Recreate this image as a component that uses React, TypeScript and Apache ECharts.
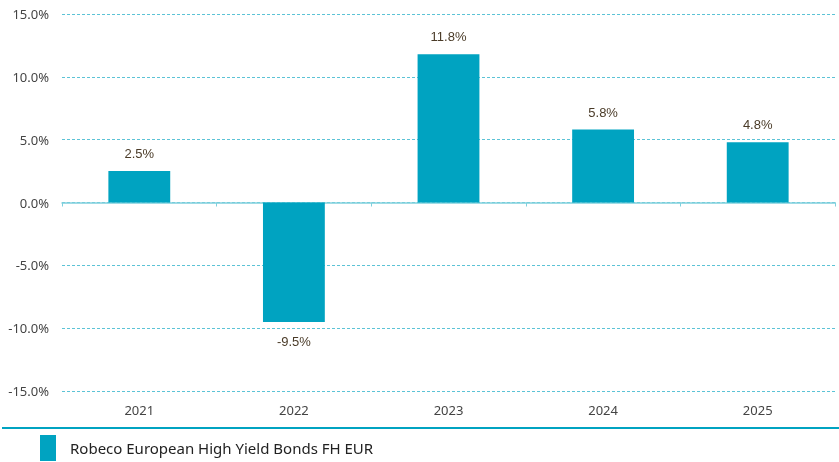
import React, { useEffect, useRef } from "react";
import * as echarts from "echarts";

const categories = ["2021", "2022", "2023", "2024", "2025"];
const values = [2.5, -9.5, 11.8, 5.8, 4.8];
const seriesName = "Robeco European High Yield Bonds FH EUR";

export default function App() {
  const ref = useRef<HTMLDivElement>(null);
  useEffect(() => {
    if (!ref.current) return;
    const chart = echarts.init(ref.current, null, { renderer: "svg" });
    chart.setOption({
      animation: false,
      grid: { left: 62, right: 4, top: 14, bottom: 71, containLabel: false },
      legend: {
        left: 40,
        top: 435,
        padding: 0,
        itemWidth: 16,
        itemHeight: 26,
        itemGap: 20,
        icon: "rect",
        textStyle: { fontFamily: "Noto Sans", fontSize: 15, color: "#222", padding: [0, 0, 0, 9] },
        data: [seriesName],
      },
      xAxis: [
        {
          type: "category",
          data: categories,
          position: "bottom",
          axisLine: { onZero: true, lineStyle: { color: "#7fd0dd", width: 1.5 } },
          axisTick: { show: true, length: 4, lineStyle: { color: "#7fd0dd" } },
          axisLabel: { show: false },
        },
        {
          type: "category",
          data: categories,
          position: "bottom",
          axisLine: { show: false, onZero: false },
          axisTick: { show: false },
          axisLabel: { show: true, margin: 12, fontFamily: "Noto Sans", fontSize: 13, color: "#444" },
        },
      ],
      yAxis: {
        type: "value",
        min: -15,
        max: 15,
        interval: 5,
        axisLine: { show: false },
        axisTick: { show: false },
        axisLabel: {
          margin: 13,
          fontFamily: "Noto Sans",
          fontSize: 13,
          color: "#444",
          formatter: (v: number) => v.toFixed(1) + "%",
        },
        splitLine: { lineStyle: { color: "#5cc3d6", type: [3, 2], width: 1 } },
      },
      series: [
        {
          name: seriesName,
          type: "bar",
          xAxisIndex: 0,
          barWidth: "40%",
          itemStyle: { color: "#00a3c1" },
          data: values.map((v) => ({
            value: v,
            label: {
              show: true,
              position: v >= 0 ? "top" : "bottom",
              distance: v >= 0 ? 11 : 13,
              formatter: v.toFixed(1) + "%",
              fontFamily: "Liberation Sans",
              fontSize: 13,
              color: "#4a3b28",
            },
          })),
        },
      ],
      graphic: [
        {
          type: "line",
          shape: { x1: 2, y1: 428, x2: 839, y2: 428 },
          style: { stroke: "#00a3c1", lineWidth: 2 },
        },
      ],
    });
    return () => chart.dispose();
  }, []);
  return <div ref={ref} style={{ position: "fixed", left: 0, top: 0, width: 839, height: 462 }} />;
}
